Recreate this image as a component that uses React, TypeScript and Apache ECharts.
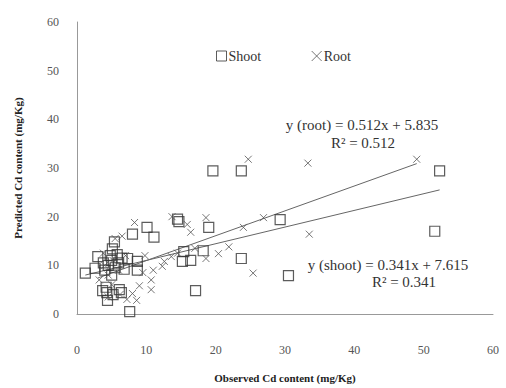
import React, { useEffect, useRef } from "react";
import * as echarts from "echarts";

const xTicks = [0, 10, 20, 30, 40, 50, 60];
const yTicks = [0, 10, 20, 30, 40, 50, 60];

const shootPoints: number[][] = [
  [19.6, 29.4], [23.7, 29.4], [52.3, 29.4], [51.6, 17.0], [23.7, 11.4], [30.5, 7.9],
  [17.1, 4.8], [29.3, 19.4], [19.0, 17.8], [14.7, 19.0], [11.1, 15.8], [10.1, 17.8],
  [8.0, 16.4], [5.4, 14.8], [5.1, 13.4], [3.0, 11.8], [1.2, 8.4], [2.6, 9.4],
  [7.3, 11.4], [8.7, 10.8], [8.7, 9.0], [15.2, 10.8], [16.4, 11.0], [15.4, 12.8],
  [18.2, 13.0], [7.6, 0.5], [3.7, 4.8], [4.3, 4.4], [6.1, 5.0], [6.4, 4.4],
  [4.4, 2.8], [4.5, 10.0], [5.0, 11.0], [5.5, 9.5], [6.0, 10.5], [4.0, 9.0],
  [5.0, 8.0], [6.5, 11.5], [4.8, 12.0], [3.8, 10.5], [5.8, 12.2], [6.8, 9.2],
  [4.2, 5.5], [5.2, 4.0], [14.5, 19.5],
];

const rootPoints: number[][] = [
  [49.0, 31.8], [24.7, 31.8], [33.3, 31.0], [26.9, 19.8], [24.0, 17.8], [33.5, 16.4],
  [25.4, 8.4], [18.6, 19.8], [16.4, 16.8], [20.4, 12.4], [21.9, 13.8], [18.6, 11.4],
  [13.7, 20.0], [15.9, 18.4], [8.3, 18.8], [12.3, 9.8], [13.6, 11.8], [12.6, 10.8],
  [10.7, 5.0], [9.0, 5.8], [8.6, 2.8], [10.7, 7.0], [6.5, 16.0], [5.5, 15.5],
  [4.0, 10.0], [5.2, 11.0], [6.0, 9.0], [4.5, 8.0], [3.2, 7.0], [5.0, 6.0],
  [6.2, 4.0], [7.2, 3.0], [8.0, 4.2], [9.5, 8.5], [11.0, 9.0], [7.0, 12.0],
  [14.5, 12.5], [17.0, 13.5], [9.8, 12.0], [4.5, 3.5], [3.8, 12.5],
];

// trend line endpoints
const rootTrend: number[][] = [[3.0, 7.4], [49.0, 30.9]];
const shootTrend: number[][] = [[1.2, 8.0], [52.3, 25.5]];

const rootEq = "y (root) = 0.512x + 5.835";
const rootR2 = "R² = 0.512";
const shootEq = "y (shoot) = 0.341x + 7.615";
const shootR2 = "R² = 0.341";

const FONT = "'Liberation Serif', 'Times New Roman', serif";
const CROSS = "path://M0,0L10,10M10,0L0,10";

export default function App() {
  const ref = useRef<HTMLDivElement>(null);
  useEffect(() => {
    if (!ref.current) return;
    const chart = echarts.init(ref.current, null, { renderer: "svg" });
    chart.setOption({
      animation: false,
      backgroundColor: "#fff",
      textStyle: { fontFamily: FONT },
      grid: { left: 77, right: 13, top: 22, bottom: 66, containLabel: false },
      legend: {
        top: 44,
        left: 211,
        itemGap: 50,
        itemWidth: 10,
        itemHeight: 10,
        textStyle: { fontFamily: FONT, fontSize: 14, color: "#333", padding: [0, 0, 0, -3] },
        data: [
          { name: "Shoot", icon: "rect", itemStyle: { color: "transparent", borderColor: "#333", borderWidth: 1 } },
          { name: "Root", icon: CROSS, itemStyle: { color: "transparent", borderColor: "#555", borderWidth: 1 } },
        ],
      },
      xAxis: {
        type: "value",
        min: xTicks[0],
        max: xTicks[xTicks.length - 1],
        interval: 10,
        splitLine: { show: false },
        axisTick: { show: false },
        axisLine: { show: true, lineStyle: { color: "#999", width: 1 } },
        axisLabel: { margin: 30, color: "#555", fontSize: 12, fontFamily: FONT },
        name: "Observed Cd content (mg/Kg)",
        nameLocation: "middle",
        nameGap: 58,
        nameTextStyle: { fontWeight: "bold", fontSize: 11, color: "#222", fontFamily: FONT },
      },
      yAxis: {
        type: "value",
        min: yTicks[0],
        max: yTicks[yTicks.length - 1],
        interval: 10,
        splitLine: { show: false },
        axisTick: { show: false },
        axisLine: { show: true, lineStyle: { color: "#999", width: 1 } },
        axisLabel: { margin: 18, color: "#555", fontSize: 12, fontFamily: FONT },
        name: "Predicted Cd content (mg/Kg)",
        nameLocation: "middle",
        nameGap: 54,
        nameTextStyle: { fontWeight: "bold", fontSize: 11, color: "#222", fontFamily: FONT },
      },
      series: [
        {
          name: "Shoot",
          type: "scatter",
          symbol: "rect",
          symbolSize: 10,
          data: shootPoints,
          itemStyle: { color: "transparent", borderColor: "#333", borderWidth: 1.2 },
          z: 3,
        },
        {
          name: "Root",
          type: "scatter",
          symbol: CROSS,
          symbolSize: 7,
          data: rootPoints,
          itemStyle: { color: "transparent", borderColor: "#555", borderWidth: 1 },
          z: 3,
        },
        {
          name: "rootTrend",
          type: "line",
          data: rootTrend,
          symbol: "none",
          lineStyle: { color: "#666", width: 1 },
          z: 2,
        },
        {
          name: "shootTrend",
          type: "line",
          data: shootTrend,
          symbol: "none",
          lineStyle: { color: "#666", width: 1 },
          z: 2,
        },
      ],
      graphic: [
        { type: "text", x: 362, y: 125, style: { text: rootEq, align: "center", verticalAlign: "middle", font: `15px ${FONT}`, fill: "#333" } },
        { type: "text", x: 363, y: 143, style: { text: rootR2, align: "center", verticalAlign: "middle", font: `15px ${FONT}`, fill: "#333" } },
        { type: "text", x: 388, y: 265, style: { text: shootEq, align: "center", verticalAlign: "middle", font: `15px ${FONT}`, fill: "#333" } },
        { type: "text", x: 404, y: 282, style: { text: shootR2, align: "center", verticalAlign: "middle", font: `15px ${FONT}`, fill: "#333" } },
      ],
    });
    return () => chart.dispose();
  }, []);
  return <div ref={ref} style={{ width: 506, height: 388, position: "absolute", left: 0, top: 0 }} />;
}
